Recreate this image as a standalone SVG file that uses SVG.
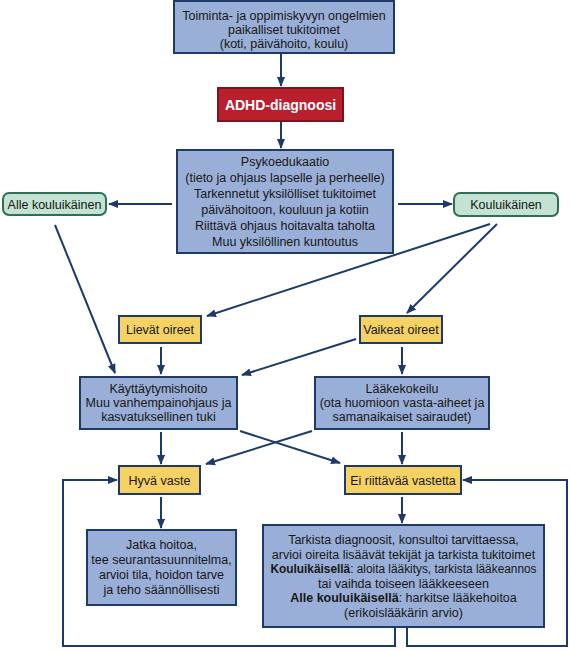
<svg xmlns="http://www.w3.org/2000/svg" width="570" height="650" viewBox="0 0 570 650">
<defs>
<marker id="ah" markerUnits="userSpaceOnUse" markerWidth="10" markerHeight="10" viewBox="0 0 10 10" refX="9" refY="5" orient="auto">
<path d="M0,1 L10,5 L0,9 z" fill="#1d3a6b"/>
</marker>
<style>
.blue{fill:#9aafd8;stroke:#1d3a6b;stroke-width:2}
.yel{fill:#f6d265;stroke:#1d3a6b;stroke-width:2}
.grn{fill:#c3e2d2;stroke:#2c6e58;stroke-width:2}
.red{fill:#b8202e;stroke:#7a1420;stroke-width:2}
text{font-family:"Liberation Sans",Arial,sans-serif;font-size:12.5px;fill:#161616;text-anchor:middle}
.w{fill:#ffffff;font-weight:bold;font-size:14px}
.b{font-weight:bold}
.con line,.con polyline{stroke:#1d3a6b;stroke-width:2;fill:none}
.con .a{marker-end:url(#ah)}
</style>
</defs>
<rect width="570" height="650" fill="#ffffff"/>
<g class="con">
<line class="a" x1="281" y1="53" x2="281" y2="86"/>
<line class="a" x1="281" y1="121" x2="281" y2="148"/>
<line class="a" x1="172" y1="204" x2="109" y2="204"/>
<line class="a" x1="398" y1="204" x2="452" y2="204"/>
<line class="a" x1="55" y1="225" x2="115" y2="373"/>
<line class="a" x1="490" y1="224" x2="207" y2="316"/>
<line class="a" x1="497" y1="224" x2="407" y2="313"/>
<line class="a" x1="356" y1="339" x2="242" y2="375"/>
<line class="a" x1="161" y1="347" x2="161" y2="374"/>
<line class="a" x1="402" y1="347" x2="402" y2="374"/>
<line class="a" x1="240" y1="431" x2="340" y2="463"/>
<line class="a" x1="312" y1="431" x2="206" y2="464"/>
<line class="a" x1="161" y1="432" x2="161" y2="464"/>
<line class="a" x1="402" y1="432" x2="402" y2="464"/>
<line class="a" x1="161" y1="497" x2="161" y2="528"/>
<line class="a" x1="402" y1="497" x2="402" y2="523"/>
<polyline class="a" points="395,627 395,646 63,646 63,480 117,480"/>
<polyline class="a" points="407,627 407,646 567,646 567,480 463,480"/>
</g>
<g id="n1">
<rect class="blue" x="174" y="1" width="220" height="52"/>
<text x="284" y="19.5">Toiminta- ja oppimiskyvyn ongelmien</text>
<text x="284" y="33.5">paikalliset tukitoimet</text>
<text x="284" y="47.5">(koti, päivähoito, koulu)</text>
</g>
<g id="adhd">
<rect class="red" x="218" y="88" width="125" height="33"/>
<text class="w" x="280.5" y="109.5">ADHD-diagnoosi</text>
</g>
<g id="psyko">
<rect class="blue" x="177" y="150" width="216" height="103"/>
<text x="285" y="166">Psykoedukaatio</text>
<text x="285" y="182">(tieto ja ohjaus lapselle ja perheelle)</text>
<text x="285" y="198">Tarkennetut yksilölliset tukitoimet</text>
<text x="285" y="214">päivähoitoon, kouluun ja kotiin</text>
<text x="285" y="230">Riittävä ohjaus hoitavalta taholta</text>
<text x="285" y="246">Muu yksilöllinen kuntoutus</text>
</g>
<g id="alle">
<rect class="grn" x="3" y="193" width="103" height="22" rx="6"/>
<text x="54.5" y="208.5">Alle kouluikäinen</text>
</g>
<g id="koulu">
<rect class="grn" x="454" y="193" width="104" height="23" rx="6"/>
<text x="506" y="209">Kouluikäinen</text>
</g>
<g id="lievat">
<rect class="yel" x="119" y="316" width="82" height="27"/>
<text x="160" y="334">Lievät oireet</text>
</g>
<g id="vaikeat">
<rect class="yel" x="360" y="316" width="82" height="27"/>
<text x="401" y="334">Vaikeat oireet</text>
</g>
<g id="kaytt">
<rect class="blue" x="80" y="377" width="157" height="52"/>
<text x="158.5" y="393">Käyttäytymishoito</text>
<text x="158.5" y="407">Muu vanhempainohjaus ja</text>
<text x="158.5" y="421">kasvatuksellinen tuki</text>
</g>
<g id="laake">
<rect class="blue" x="315" y="377" width="174" height="52"/>
<text x="402" y="393">Lääkekokeilu</text>
<text x="402" y="407">(ota huomioon vasta-aiheet ja</text>
<text x="402" y="421">samanaikaiset sairaudet)</text>
</g>
<g id="hyva">
<rect class="yel" x="119" y="466" width="81" height="28"/>
<text x="159.5" y="484.5">Hyvä vaste</text>
</g>
<g id="ei">
<rect class="yel" x="345" y="466" width="116" height="28"/>
<text x="403" y="484.5">Ei riittävää vastetta</text>
</g>
<g id="jatka">
<rect class="blue" x="87" y="530" width="149" height="75"/>
<text x="161.5" y="549">Jatka hoitoa,</text>
<text x="161.5" y="564">tee seurantasuunnitelma,</text>
<text x="161.5" y="579">arvioi tila, hoidon tarve</text>
<text x="161.5" y="594">ja teho säännöllisesti</text>
</g>
<g id="tarkista">
<rect class="blue" x="263" y="525" width="281" height="102"/>
<text x="403.5" y="544">Tarkista diagnoosit, konsultoi tarvittaessa,</text>
<text x="403.5" y="558.5">arvioi oireita lisäävät tekijät ja tarkista tukitoimet</text>
<text x="403.5" y="573" textLength="266" lengthAdjust="spacingAndGlyphs"><tspan class="b">Kouluikäisellä</tspan>: aloita lääkitys, tarkista lääkeannos</text>
<text x="403.5" y="587.5">tai vaihda toiseen lääkkeeseen</text>
<text x="403.5" y="602"><tspan class="b">Alle kouluikäisellä</tspan>: harkitse lääkehoitoa</text>
<text x="403.5" y="616.5">(erikoislääkärin arvio)</text>
</g>
</svg>
